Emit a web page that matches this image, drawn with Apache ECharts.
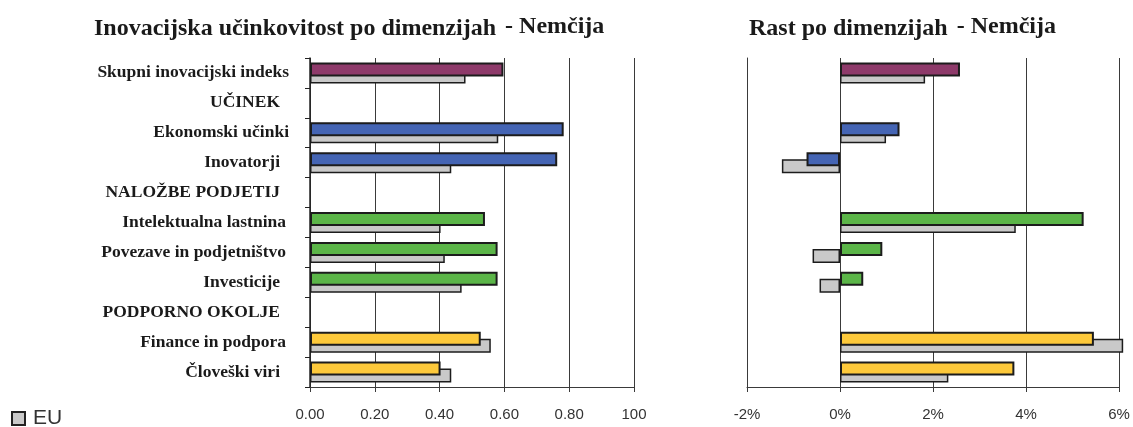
<!DOCTYPE html>
<html>
<head>
<meta charset="utf-8">
<script src="https://cdn.jsdelivr.net/npm/echarts@6/dist/echarts.min.js"></script>
<style>
  html, body { margin: 0; padding: 0; background: #fff; }
  #chart { width: 1133px; height: 427px; }
</style>
</head>
<body>
<div id="chart"></div>
<script>
// Dimension rows (group headers carry no bars)
const categories = [
  'Skupni inovacijski indeks', 'UČINEK', 'Ekonomski učinki', 'Inovatorji',
  'NALOŽBE PODJETIJ', 'Intelektualna lastnina', 'Povezave in podjetništvo',
  'Investicije', 'PODPORNO OKOLJE', 'Finance in podpora', 'Človeški viri'
];
// Row colour group: purple = index, blue = outputs, green = firm activities, yellow = enablers
const rowGroup = ['idx', null, 'out', 'out', null, 'firm', 'firm', 'firm', null, 'env', 'env'];

// Performance (0–1)
const perfCountry = [0.597, null, 0.783, 0.763, null, 0.540, 0.579, 0.579, null, 0.527, 0.403];
const perfEU      = [0.480, null, 0.581, 0.436, null, 0.403, 0.416, 0.468, null, 0.558, 0.436];

// Growth (%)
const growthCountry = [2.58, null, 1.28, -0.72, null, 5.24, 0.91, 0.50, null, 5.46, 3.75];
const growthEU      = [1.83, null, 0.99, -1.25, null, 3.78, -0.59, -0.44, null, 6.09, 2.33];

const perfTicks = ['0.00', '0.20', '0.40', '0.60', '0.80', '100'];
const growthTicks = ['-2%', '0%', '2%', '4%', '6%'];

const groupColors = { idx: '#8e3a6a', out: '#4565b4', firm: '#5bb548', env: '#fdc93b' };
const euColor = '#c9c9c9';
const edge = '#1c1c1c';
const grid = '#3a3a3a';

// Right-hand inset of each row label (rich style name per row)
const labelInset = ['i0', 'i2', 'i0', 'i2', 'i2', 'i1', 'i1', 'i2', 'i2', 'i1', 'i2'];

function coloured(values) {
  return values.map((v, i) => v == null ? null : {
    value: v,
    itemStyle: { color: groupColors[rowGroup[i]] }
  });
}

const serifBold = { fontFamily: 'Liberation Serif', fontWeight: 'bold', color: '#1a1a1a' };
const titleRich = {
  a: Object.assign({ fontSize: 24 }, serifBold),
  b: Object.assign({ fontSize: 24, padding: [0, 0, 3, 9] }, serifBold)
};
const rowLabel = Object.assign({ fontSize: 17.5 }, serifBold);

const chart = echarts.init(document.getElementById('chart'), null, { renderer: 'canvas' });

chart.setOption({
  backgroundColor: '#ffffff',
  animation: false,
  title: [
    {
      left: 94, top: 15, padding: 0,
      text: '{a|Inovacijska učinkovitost po dimenzijah}{b|- Nemčija}',
      textStyle: { rich: titleRich }
    },
    {
      left: 749, top: 15, padding: 0,
      text: '{a|Rast po dimenzijah}{b|- Nemčija}',
      textStyle: { rich: titleRich }
    }
  ],
  legend: {
    left: 11, top: 408, padding: 0,
    itemWidth: 13, itemHeight: 13, itemGap: 4,
    data: [{ name: 'EU', icon: 'rect', itemStyle: { color: euColor, borderColor: '#222', borderWidth: 2 } }],
    textStyle: { fontFamily: 'Liberation Sans', fontSize: 21, color: '#333', padding: [0, 0, 0, 3] }
  },
  grid: [
    { left: 310, top: 58, width: 324, height: 329 },
    { left: 747, top: 58, width: 372, height: 329 }
  ],
  xAxis: [
    {
      gridIndex: 0, type: 'value', min: 0, max: 1, interval: 0.2,
      axisLine: { show: true, lineStyle: { color: grid, width: 1 } },
      axisTick: { show: true, length: 5, lineStyle: { color: grid } },
      splitLine: { show: true, lineStyle: { color: grid, width: 1 } },
      axisLabel: {
        margin: 20, fontFamily: 'Liberation Sans', fontSize: 15, color: '#333',
        formatter: v => perfTicks[Math.round(v / 0.2)]
      }
    },
    {
      gridIndex: 1, type: 'value', min: -2, max: 6, interval: 2,
      axisLine: { show: true, lineStyle: { color: grid, width: 1 } },
      axisTick: { show: true, length: 5, lineStyle: { color: grid } },
      splitLine: { show: true, lineStyle: { color: grid, width: 1 } },
      axisLabel: {
        margin: 20, fontFamily: 'Liberation Sans', fontSize: 15, color: '#333',
        formatter: v => growthTicks[Math.round((v + 2) / 2)]
      }
    }
  ],
  yAxis: [
    {
      gridIndex: 0, type: 'category', data: categories, inverse: true,
      axisLine: { show: true, onZero: false, lineStyle: { color: '#222', width: 1.5 } },
      axisTick: { show: true, length: 5, lineStyle: { color: '#222' } },
      axisLabel: Object.assign({
        margin: 21,
        formatter: (name, idx) => '{' + labelInset[idx] + '|' + name + '}',
        rich: {
          i0: Object.assign({ padding: [0, 0, 0, 0] }, rowLabel),
          i1: Object.assign({ padding: [0, 3, 0, 0] }, rowLabel),
          i2: Object.assign({ padding: [0, 9, 0, 0] }, rowLabel)
        }
      }, rowLabel)
    },
    {
      gridIndex: 1, type: 'category', data: categories, inverse: true,
      axisLine: { show: true, onZero: false, lineStyle: { color: grid, width: 1 } },
      axisTick: { show: false },
      axisLabel: { show: false }
    }
  ],
  series: [
    {
      name: 'Nemčija', type: 'bar', xAxisIndex: 0, yAxisIndex: 0, z: 3,
      barWidth: 14, barGap: '-50%',
      itemStyle: { borderColor: edge, borderWidth: 2 },
      data: coloured(perfCountry)
    },
    {
      name: 'EU', type: 'bar', xAxisIndex: 0, yAxisIndex: 0, z: 2,
      barWidth: 14, barGap: '-50%',
      itemStyle: { color: euColor, borderColor: edge, borderWidth: 1.5 },
      data: perfEU
    },
    {
      name: 'Nemčija', type: 'bar', xAxisIndex: 1, yAxisIndex: 1, z: 3,
      barWidth: 14, barGap: '-50%',
      itemStyle: { borderColor: edge, borderWidth: 2 },
      data: coloured(growthCountry)
    },
    {
      name: 'EU', type: 'bar', xAxisIndex: 1, yAxisIndex: 1, z: 2, clip: false,
      barWidth: 14, barGap: '-50%',
      itemStyle: { color: euColor, borderColor: edge, borderWidth: 1.5 },
      data: growthEU
    }
  ]
});
</script>
</body>
</html>
